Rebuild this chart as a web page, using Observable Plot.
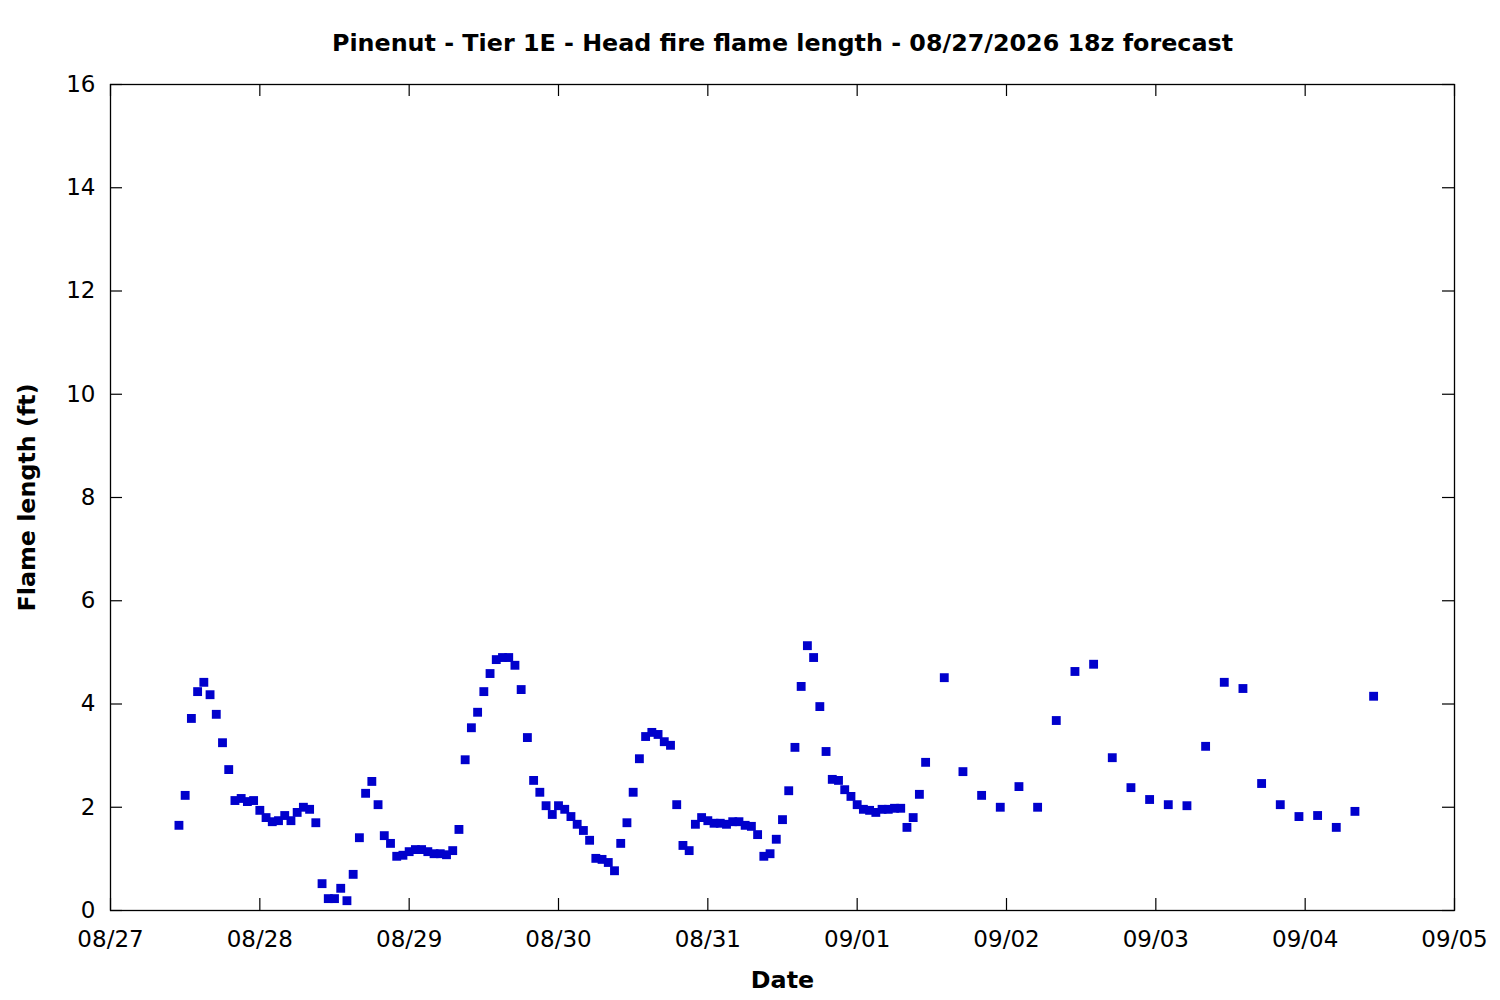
<!DOCTYPE html>
<html>
<head>
<meta charset="utf-8">
<script src="https://cdn.jsdelivr.net/npm/d3@7"></script>
<script src="https://cdn.jsdelivr.net/npm/@observablehq/plot@0.6"></script>
<style>
  html, body { margin: 0; padding: 0; background: #fff; }
  #chart { width: 1500px; height: 1000px; }
</style>
</head>
<body>
<div id="chart"></div>
<script>
// Chart text
const titleText = "Pinenut - Tier 1E - Head fire flame length - 08/27/2026 18z forecast";
const xLabel = "Date";
const yLabel = "Flame length (ft)";

// Hourly values starting 2026-08-27 11:00, one per hour
const hourlyStart = "2026-08-27T11:00:00Z";
const hourlyValues = [
  1.65, 2.23, 3.72, 4.24, 4.42, 4.18, 3.80, 3.25, 2.73, 2.13,
  2.17, 2.11, 2.13, 1.94, 1.80, 1.72, 1.74, 1.84, 1.74, 1.90,
  2.00, 1.96, 1.70, 0.52, 0.23, 0.23, 0.43, 0.19, 0.70, 1.41,
  2.27, 2.50, 2.05, 1.45, 1.30, 1.05, 1.07, 1.14, 1.18, 1.18,
  1.14, 1.10, 1.10, 1.08, 1.16, 1.57, 2.92, 3.54, 3.84, 4.24,
  4.59, 4.86, 4.90, 4.90, 4.75, 4.28, 3.35, 2.52, 2.29, 2.03,
  1.86, 2.03, 1.96, 1.82, 1.67, 1.55, 1.36, 1.01, 0.99, 0.93,
  0.77, 1.30, 1.70, 2.29, 2.94, 3.37, 3.45, 3.41, 3.27, 3.20,
  2.05, 1.26, 1.16, 1.67, 1.80, 1.74, 1.69, 1.69, 1.67, 1.72,
  1.72, 1.65, 1.63, 1.47, 1.05, 1.10, 1.38, 1.76, 2.32, 3.16,
  4.34, 5.13, 4.90, 3.95, 3.08, 2.54, 2.52, 2.34, 2.21, 2.05,
  1.96, 1.94, 1.90, 1.96, 1.96, 1.98, 1.98, 1.61, 1.80, 2.25,
  2.87
];

// Three-hourly values starting 2026-09-01 14:00, one every 3 hours
const threeHourlyStart = "2026-09-01T14:00:00Z";
const threeHourlyValues = [
  4.51, 2.69, 2.23, 2.00, 2.40, 2.00, 3.68, 4.63, 4.77, 2.96,
  2.38, 2.15, 2.05, 2.03, 3.18, 4.42, 4.30, 2.46, 2.05, 1.82,
  1.84, 1.61, 1.92, 4.15
];

// Axis settings
const xDomain = ["2026-08-27T00:00:00Z", "2026-09-05T00:00:00Z"];
const yDomain = [0, 16];
const yTicks = [0, 2, 4, 6, 8, 10, 12, 14, 16];

// Build table
const data = [];
const h0 = new Date(hourlyStart);
hourlyValues.forEach((v, i) => data.push({ t: d3.utcHour.offset(h0, i), v }));
const t0 = new Date(threeHourlyStart);
threeHourlyValues.forEach((v, i) => data.push({ t: d3.utcHour.offset(t0, 3 * i), v }));

const xTicks = d3.utcDay.range(new Date(xDomain[0]), d3.utcDay.offset(new Date(xDomain[1]), 1));

const W = 1500, H = 1000;
const mL = 110, mR = 46, mT = 84, mB = 90;
const frameW = W - mL - mR, frameH = H - mT - mB;
const tickLen = 12;

const chart = Plot.plot({
  width: W,
  height: H,
  marginLeft: mL,
  marginRight: mR,
  marginTop: mT,
  marginBottom: mB,
  style: { fontFamily: "DejaVu Sans, sans-serif", fontSize: "23px", color: "#000", background: "#fff" },
  x: { type: "utc", domain: xDomain.map(d => new Date(d)) },
  y: { domain: yDomain },
  marks: [
    Plot.axisX({ ticks: xTicks, tickFormat: d3.utcFormat("%m/%d"), tickSize: 0, tickPadding: 20, label: null, fontSize: 23 }),
    Plot.axisY({ ticks: yTicks, tickSize: 0, tickPadding: 15, label: null, fontSize: 23 }),
    // inward tick marks on all four sides
    Plot.ruleX(xTicks, { x: d => d, insetTop: frameH - tickLen, stroke: "#000", strokeWidth: 1.2 }),
    Plot.ruleX(xTicks, { x: d => d, insetBottom: frameH - tickLen, stroke: "#000", strokeWidth: 1.2 }),
    Plot.ruleY(yTicks, { y: d => d, insetRight: frameW - tickLen, stroke: "#000", strokeWidth: 1.2 }),
    Plot.ruleY(yTicks, { y: d => d, insetLeft: frameW - tickLen, stroke: "#000", strokeWidth: 1.2 }),
    Plot.frame({ stroke: "#000", strokeWidth: 1.3 }),
    Plot.dot(data, { x: "t", y: "v", symbol: "square", r: 5.0, fill: "#0000cc", stroke: "none" }),
    Plot.text([titleText], { frameAnchor: "top", dy: -41, fontWeight: "bold", fontSize: 23.8, lineAnchor: "middle", textAnchor: "middle", fill: "#000" }),
    Plot.text([xLabel], { frameAnchor: "bottom", dy: 70, fontWeight: "bold", fontSize: 23.8, lineAnchor: "middle", textAnchor: "middle", fill: "#000" }),
    Plot.text([yLabel], { frameAnchor: "left", dx: -83, rotate: -90, fontWeight: "bold", fontSize: 23.8, lineAnchor: "middle", textAnchor: "middle", fill: "#000" })
  ]
});

document.getElementById("chart").appendChild(chart);
</script>
</body>
</html>
